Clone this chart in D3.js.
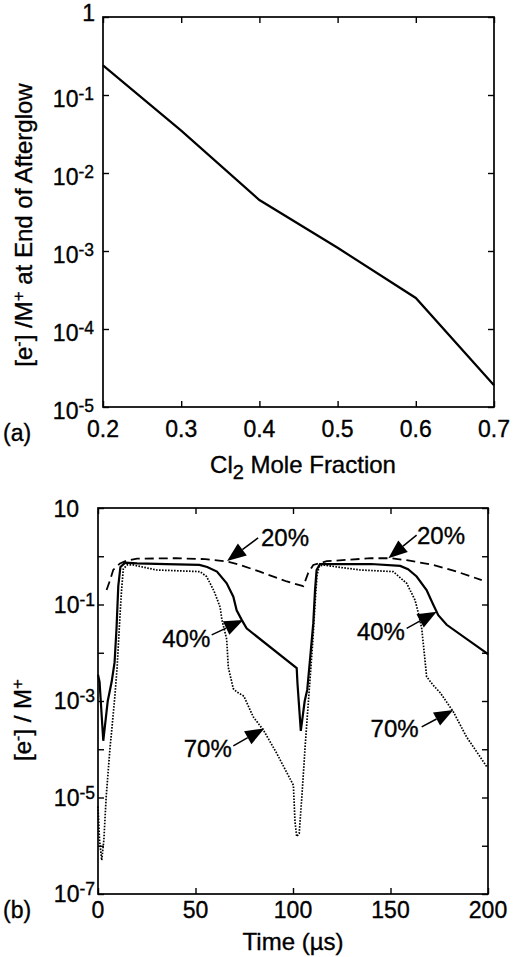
<!DOCTYPE html>
<html><head><meta charset="utf-8">
<script src="https://cdn.jsdelivr.net/npm/d3@7"></script>
<style>
body{margin:0;background:#fff}
svg{display:block}
text{font-family:"Liberation Sans",Arial,Helvetica,sans-serif;fill:#000;stroke:#000;stroke-width:0.35px}
</style>
</head><body><svg id="c" width="514" height="957"></svg>
<script>
// ---------- Panel (a) data ----------
const aFraction = [0.2, 0.3, 0.4, 0.5, 0.6, 0.7];
const aRatio    = [0.24, 0.035, 0.0045, 0.0011, 0.00025, 0.000019];
const aXTicks   = [0.2, 0.3, 0.4, 0.5, 0.6, 0.7];
const aXLabels  = ["0.2", "0.3", "0.4", "0.5", "0.6", "0.7"];
const aYTicks   = [1, 1e-1, 1e-2, 1e-3, 1e-4, 1e-5];
const aYLabels  = [["1", ""], ["10", "-1"], ["10", "-2"], ["10", "-3"], ["10", "-4"], ["10", "-5"]];

// ---------- Panel (b) data ----------
const t40 = [0, 0.8, 2.7, 5, 7, 8.5, 9.5, 10.4, 11.5, 14, 20, 35, 52, 56, 61, 66, 69.4, 71.1, 73.7, 76.2,
             101.9, 102.3, 104, 106, 107.3, 108.7, 110.4, 111.3, 112.1, 113.8, 140, 155, 159, 163.4, 168.5,
             172, 174.5, 178.8, 199.3, 200];
const v40 = [3.5e-3, 2.5e-3, 1.5e-4, 1e-3, 2.5e-3, 6.3e-3, 0.032, 0.24, 0.6, 0.74, 0.71, 0.69, 0.66, 0.6, 0.48,
             0.275, 0.145, 0.076, 0.048, 0.032,
             4.8e-3, 2.3e-3, 2.4e-4, 1e-3, 1.7e-3, 7e-3, 0.041, 0.2, 0.52, 0.69, 0.69, 0.63, 0.54, 0.38, 0.2,
             0.098, 0.06, 0.038, 9.8e-3, 9.3e-3];

const t70 = [0, 0.8, 1.9, 3.0, 4.2, 6.2, 8.7, 9.8, 11.3, 12.1, 13, 15, 18, 30, 52.3, 55.7, 59.5, 62.6, 63.6,
             66, 66.8, 69.4, 71.1, 74.8, 79.6, 84.8, 91.6, 100.2, 101, 101.9, 103.2, 104.5, 106.2, 108.7,
             110.2, 111.3, 112.3, 113.5, 116, 122.4, 134.4, 151.4, 158.3, 162.6, 164.3, 166, 167.7, 168.5,
             172, 175.4, 182.2, 189, 199.3];
const v70 = [6.5e-6, 1.3e-6, 5e-7, 1.3e-6, 1.05e-5, 1.1e-4, 1.3e-3, 5e-3, 0.063, 0.2, 0.55, 0.66, 0.66, 0.52,
             0.48, 0.38, 0.19, 0.089, 0.047,
             0.019, 5e-3, 1.8e-3, 1.55e-3, 1.26e-3, 4.7e-4, 2.5e-4, 8.3e-5, 1.8e-5, 3.2e-6, 1.55e-6, 1.8e-6,
             1e-5, 1.1e-4, 2.75e-3,
             0.018, 0.1, 0.4, 0.63, 0.66, 0.6, 0.52, 0.48, 0.275, 0.123, 0.066, 0.032, 7e-3, 3.2e-3,
             2.1e-3, 1.5e-3, 6e-4, 1.8e-4, 4.4e-5];

const t20 = [4.4, 6.2, 7.8, 11.3, 14.7, 20, 40, 55, 66, 72.8, 83, 96.8, 105.3, 107.8, 110.4, 117.3, 140, 150,
             158.3, 172, 184, 196.8];
const v20 = [0.2, 0.32, 0.52, 0.71, 0.81, 0.89, 0.91, 0.87, 0.78, 0.66, 0.48, 0.3, 0.24, 0.45, 0.66, 0.79,
             0.91, 0.91, 0.83, 0.66, 0.48, 0.32];

const bXTicks  = [0, 50, 100, 150, 200];
const bXLabels = ["0", "50", "100", "150", "200"];
const bYTicks  = [10, 1, 1e-1, 1e-2, 1e-3, 1e-4, 1e-5, 1e-6, 1e-7];
const bYLabelTicks = [10, 1e-1, 1e-3, 1e-5, 1e-7];
const bYLabels = [["10", ""], ["10", "-1"], ["10", "-3"], ["10", "-5"], ["10", "-7"]];

// annotations: label, tip (t,v), tail (t,v), text (t,v)
const annLabels = ["20%", "20%", "40%", "40%", "70%", "70%"];
const annTipT   = [66.2, 148.9, 74.5, 173.7, 85.3, 182.2];
const annTipV   = [0.8, 0.91, 0.048, 0.071, 2.7e-4, 6.5e-4];
const annTailT  = [82.1, 163.4, 58.3, 158.3, 69.4, 166];
const annTailV  = [2.4, 2.75, 0.0234, 0.032, 1.18e-4, 2.9e-4];
const annTextT  = [83.6, 163.6, 57.6, 157.4, 68.6, 164.4];
const annTextV  = [1.63, 1.8, 0.0132, 0.0184, 6.9e-5, 1.8e-4];
const annAnchor = ["start", "start", "end", "end", "end", "end"];

const svg = d3.select("#c");

function frameAxes(g, x, y, xt, yt) {
  const [x0, x1] = x.range(), [y0, y1] = y.range();
  const mk = (axis, tr) => {
    const a = g.append("g").attr("transform", tr).call(axis);
    a.select(".domain").remove();
    a.selectAll("line").attr("stroke", "#000").attr("stroke-width", 1.4);
  };
  mk(d3.axisBottom(x).tickValues(xt).tickSizeInner(-6).tickSizeOuter(0).tickFormat(() => ""), `translate(0,${y0})`);
  mk(d3.axisTop(x).tickValues(xt).tickSizeInner(-6).tickSizeOuter(0).tickFormat(() => ""), `translate(0,${y1})`);
  mk(d3.axisLeft(y).tickValues(yt).tickSizeInner(-6).tickSizeOuter(0).tickFormat(() => ""), `translate(${x0},0)`);
  mk(d3.axisRight(y).tickValues(yt).tickSizeInner(-6).tickSizeOuter(0).tickFormat(() => ""), `translate(${x1},0)`);
  g.append("rect").attr("x", x0).attr("y", y1).attr("width", x1 - x0).attr("height", y0 - y1)
    .attr("fill", "none").attr("stroke", "#000").attr("stroke-width", 1.7);
}

function powLabel(g, xr, yv, parts, dyMain) {
  const t = g.append("text").attr("x", xr).attr("y", yv + dyMain).attr("text-anchor", "end")
    .style("font-size", "23px");
  t.append("tspan").text(parts[0]);
  if (parts[1]) t.append("tspan").attr("dy", -7).style("font-size", "17.5px").text(parts[1]);
}

// ================= Panel (a) =================
const xa = d3.scaleLinear().domain([0.2, 0.7]).range([103, 494]);
const ya = d3.scaleLog().domain([1e-5, 1]).range([407, 17]);
const ga = svg.append("g");
frameAxes(ga, xa, ya, aXTicks, aYTicks);

ga.append("path").datum(aFraction.map((d, i) => [d, aRatio[i]]))
  .attr("fill", "none").attr("stroke", "#000").attr("stroke-width", 2.2)
  .attr("d", d3.line().x(d => xa(d[0])).y(d => ya(d[1])));

aXTicks.forEach((v, i) => ga.append("text").attr("x", xa(v)).attr("y", 437).attr("text-anchor", "middle")
  .style("font-size", "23px").text(aXLabels[i]));
aYTicks.forEach((v, i) => {
  if (i === 0) powLabel(ga, 95, ya(v), aYLabels[i], 4);
  else powLabel(ga, 94, ya(v), aYLabels[i], 12);
});

ga.append("text").attr("x", 3).attr("y", 441).style("font-size", "23px").text("(a)");
const axl = ga.append("text").attr("x", 303).attr("y", 473).attr("text-anchor", "middle").style("font-size", "24px");
axl.append("tspan").text("Cl");
axl.append("tspan").attr("dy", 6).style("font-size", "20px").text("2");
axl.append("tspan").attr("dy", -6).text(" Mole Fraction");

const ayl = ga.append("text").attr("transform", "translate(32,225) rotate(-90)").attr("text-anchor", "middle")
  .style("font-size", "24px");
ayl.append("tspan").text("[e");
ayl.append("tspan").attr("dy", -8).style("font-size", "16px").text("-");
ayl.append("tspan").attr("dy", 8).text("] /M");
ayl.append("tspan").attr("dy", -8).style("font-size", "17px").text("+");
ayl.append("tspan").attr("dy", 8).text(" at End of Afterglow");

// ================= Panel (b) =================
const xb = d3.scaleLinear().domain([0, 200]).range([98, 488]);
const yb = d3.scaleLog().domain([1e-7, 10]).range([894, 508]);
const gb = svg.append("g");
frameAxes(gb, xb, yb, bXTicks, bYTicks);

const lineB = d3.line().x(d => xb(d[0])).y(d => yb(d[1]));
gb.append("path").datum(t20.map((d, i) => [d, v20[i]]))
  .attr("fill", "none").attr("stroke", "#000").attr("stroke-width", 1.8).attr("stroke-dasharray", "9,5")
  .attr("d", lineB);
gb.append("path").datum(t70.map((d, i) => [d, v70[i]]))
  .attr("fill", "none").attr("stroke", "#000").attr("stroke-width", 1.7).attr("stroke-dasharray", "1.6,1.4")
  .attr("d", lineB);
gb.append("path").datum(t40.map((d, i) => [d, v40[i]]))
  .attr("fill", "none").attr("stroke", "#000").attr("stroke-width", 2.2)
  .attr("d", lineB);

bXTicks.forEach((v, i) => gb.append("text").attr("x", xb(v)).attr("y", 918).attr("text-anchor", "middle")
  .style("font-size", "23px").text(bXLabels[i]));
bYLabelTicks.forEach((v, i) => {
  if (i === 0) powLabel(gb, 79, yb(v), bYLabels[i], 9);
  else powLabel(gb, 95, yb(v), bYLabels[i], 8);
});

gb.append("text").attr("x", 3).attr("y", 918).style("font-size", "23px").text("(b)");
gb.append("text").attr("x", 293).attr("y", 950).attr("text-anchor", "middle").style("font-size", "24px")
  .text("Time (\u00B5s)");
const byl = gb.append("text").attr("transform", "translate(31,720) rotate(-90)").attr("text-anchor", "middle")
  .style("font-size", "24px");
byl.append("tspan").text("[e");
byl.append("tspan").attr("dy", -8).style("font-size", "16px").text("-");
byl.append("tspan").attr("dy", 8).text("] / M");
byl.append("tspan").attr("dy", -8).style("font-size", "17px").text("+");

// annotations
annLabels.forEach((lab, i) => {
  const tip = [xb(annTipT[i]), yb(annTipV[i])];
  const tail = [xb(annTailT[i]), yb(annTailV[i])];
  const dx = tip[0] - tail[0], dy = tip[1] - tail[1];
  const len = Math.hypot(dx, dy), ux = dx / len, uy = dy / len;
  const L = 19, w = 7.5;
  const bx = tip[0] - ux * L, by = tip[1] - uy * L;
  gb.append("line").attr("x1", tail[0]).attr("y1", tail[1]).attr("x2", bx).attr("y2", by)
    .attr("stroke", "#000").attr("stroke-width", 1.5);
  gb.append("path").attr("d", `M${tip[0]},${tip[1]}L${bx - uy * w},${by + ux * w}L${bx + uy * w},${by - ux * w}Z`)
    .attr("fill", "#000");
  gb.append("text").attr("x", xb(annTextT[i])).attr("y", yb(annTextV[i])).attr("text-anchor", annAnchor[i])
    .style("font-size", "24px").text(lab);
});
</script>
</body></html>
